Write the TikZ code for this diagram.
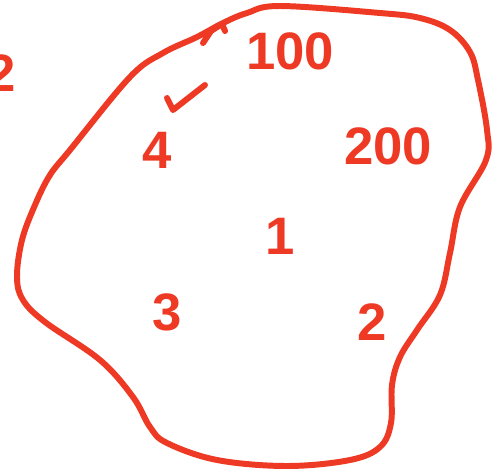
\documentclass[tikz,border=0pt]{standalone}
\usepackage{fontspec}
\setmainfont{Liberation Sans}
\definecolor{inkred}{HTML}{EE3A24}

\begin{document}
\begin{tikzpicture}[
		x=0.02cm, y=-0.02cm,
		ink/.style={draw=inkred, line width=3.4pt, line cap=round, line join=round},
		num/.style={text=inkred, font=\fontsize{30}{30}\selectfont\bfseries, inner sep=0pt}
	]
	\useasboundingbox (0,0) rectangle (497,470);

	% outline of the blob
	\draw[ink] plot[smooth cycle, tension=0.6] coordinates {
		(280,6) (380,13) (420,18) (450,30) (470,52) (478,80) (487,130) (486,160)
		(460,207) (450,253) (440,295) (417,330) (400,357) (392,385) (391,423)
		(380,447) (350,460) (287,466) (217,460) (167,443) (150,427) (133,397)
		(100,360) (45,322) (23,300) (17,277) (22,240) (35,205) (50,175) (70,150)
		(130,77) (163,53) (197,37) (223,23) (247,13)};
	\draw[ink] (203,43) -- (211,31) -- (222,24) -- (225,31);

	% tick next to the 4
	\draw[ink] (167,98) -- (173,110) -- (205,85);

	\node[num] (hundred) at (290,51) {100};
	\node[num] (four) at (157,150) {4};
	\node[num] (twohundred) at (388,146) {200};
	\node[num] (one) at (280,236) {1};
	\node[num] (three) at (167,312) {3};
	\node[num] (two) at (372,322) {2};
	\node[num] (edgetwo) at (1,73) {2};
\end{tikzpicture}
\end{document}
